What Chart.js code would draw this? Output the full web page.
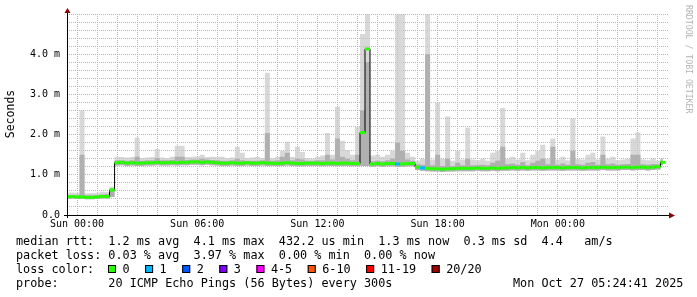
<!DOCTYPE html>
<html>
<head>
<meta charset="utf-8">
<script src="https://cdn.jsdelivr.net/npm/chart.js@4/dist/chart.umd.min.js"></script>
<style>
  body { margin: 0; background: #fff; }
  canvas { display: block; }
</style>
</head>
<body>
<canvas id="chart" width="697" height="297"></canvas>
<script>
  // 15 minute steps, hours counted from Sun 00:00
  var timeStart = -0.5;
  var timeStep = 0.25;

  var median = [
    0.45, 0.46, 0.45, 0.45, 0.44, 0.44, 0.45, 0.46, 0.46, 0.62,
    1.30, 1.31, 1.29, 1.30, 1.29, 1.29, 1.30, 1.30, 1.31, 1.30,
    1.30, 1.31, 1.30, 1.31, 1.31, 1.32, 1.32, 1.31, 1.32, 1.31,
    1.30, 1.29, 1.29, 1.30, 1.29, 1.29, 1.30, 1.29, 1.29, 1.30,
    1.29, 1.29, 1.28, 1.29, 1.30, 1.29, 1.28, 1.28, 1.29, 1.29,
    1.29, 1.28, 1.29, 1.29, 1.28, 1.29, 1.29, 1.28, 1.28, 2.05,
    4.13, 1.27, 1.28, 1.27, 1.28, 1.28, 1.27, 1.27, 1.28, 1.28,
    1.19, 1.17, 1.16, 1.15, 1.15, 1.14, 1.15, 1.15, 1.16, 1.16,
    1.16, 1.16, 1.17, 1.16, 1.16, 1.17, 1.16, 1.17, 1.17, 1.18,
    1.17, 1.18, 1.17, 1.18, 1.18, 1.17, 1.18, 1.18, 1.18, 1.17,
    1.18, 1.18, 1.18, 1.17, 1.18, 1.18, 1.18, 1.19, 1.18, 1.18,
    1.18, 1.19, 1.19, 1.18, 1.19, 1.19, 1.18, 1.19, 1.20, 1.31
  ];

  // smoke: highest ping, upper part of the dense band, lowest ping
  var smokeHi = [
    0.55, 0.56, 0.55, 2.60, 0.54, 0.55, 0.55, 0.58, 0.57, 0.70,
    1.45, 1.44, 1.43, 1.44, 1.93, 1.42, 1.43, 1.44, 1.64, 1.43,
    1.42, 1.45, 1.72, 1.72, 1.44, 1.45, 1.46, 1.50, 1.44, 1.45,
    1.44, 1.45, 1.42, 1.43, 1.70, 1.55, 1.42, 1.43, 1.44, 1.42,
    3.54, 1.42, 1.45, 1.60, 1.82, 1.44, 1.70, 1.57, 1.42, 1.40,
    1.45, 1.48, 2.04, 1.50, 2.69, 1.85, 1.62, 1.50, 2.20, 4.50,
    5.00, 1.48, 1.50, 1.45, 1.50, 1.60, 5.00, 5.00, 1.55, 1.45,
    1.35, 1.40, 5.00, 1.38, 2.80, 1.40, 2.45, 1.35, 1.60, 1.38,
    2.17, 1.38, 1.36, 1.40, 1.35, 1.55, 1.60, 2.66, 1.40, 1.45,
    1.38, 1.55, 1.36, 1.50, 1.60, 1.75, 1.40, 1.90, 1.38, 1.45,
    1.36, 2.40, 1.40, 1.38, 1.50, 1.55, 1.38, 1.95, 1.40, 1.45,
    1.36, 1.38, 1.40, 1.90, 2.05, 1.38, 1.36, 1.40, 1.35, 1.42
  ];

  var smokeMid = [
    0.50, 0.50, 0.49, 1.50, 0.49, 0.49, 0.50, 0.51, 0.52, 0.66,
    1.36, 1.36, 1.35, 1.36, 1.45, 1.35, 1.36, 1.36, 1.42, 1.36,
    1.36, 1.37, 1.45, 1.45, 1.37, 1.38, 1.38, 1.40, 1.38, 1.37,
    1.36, 1.35, 1.35, 1.36, 1.40, 1.36, 1.35, 1.35, 1.35, 1.36,
    2.04, 1.35, 1.36, 1.45, 1.55, 1.36, 1.40, 1.38, 1.35, 1.35,
    1.36, 1.36, 1.50, 1.38, 1.90, 1.45, 1.40, 1.36, 1.50, 2.60,
    3.80, 1.34, 1.35, 1.34, 1.36, 1.40, 1.80, 1.60, 1.38, 1.35,
    1.26, 1.25, 4.00, 1.24, 1.50, 1.22, 1.40, 1.22, 1.30, 1.24,
    1.40, 1.24, 1.24, 1.25, 1.24, 1.30, 1.35, 1.70, 1.26, 1.28,
    1.25, 1.32, 1.24, 1.30, 1.35, 1.40, 1.26, 1.70, 1.25, 1.28,
    1.25, 1.60, 1.26, 1.25, 1.30, 1.32, 1.25, 1.50, 1.26, 1.28,
    1.25, 1.26, 1.27, 1.50, 1.50, 1.26, 1.25, 1.27, 1.26, 1.38
  ];

  var smokeLo = [
    0.40, 0.41, 0.40, 0.40, 0.39, 0.39, 0.40, 0.41, 0.41, 0.45,
    1.23, 1.24, 1.22, 1.23, 1.22, 1.22, 1.23, 1.23, 1.24, 1.23,
    1.23, 1.24, 1.23, 1.24, 1.24, 1.25, 1.25, 1.24, 1.25, 1.24,
    1.23, 1.22, 1.22, 1.23, 1.22, 1.22, 1.23, 1.22, 1.22, 1.23,
    1.22, 1.22, 1.21, 1.22, 1.23, 1.22, 1.21, 1.21, 1.22, 1.22,
    1.22, 1.21, 1.22, 1.22, 1.21, 1.22, 1.22, 1.21, 1.21, 1.22,
    1.22, 1.20, 1.21, 1.20, 1.21, 1.21, 1.20, 1.20, 1.21, 1.21,
    1.12, 1.10, 1.09, 1.08, 1.08, 1.07, 1.08, 1.08, 1.09, 1.09,
    1.09, 1.09, 1.10, 1.09, 1.09, 1.10, 1.09, 1.10, 1.10, 1.11,
    1.10, 1.11, 1.10, 1.11, 1.11, 1.10, 1.11, 1.11, 1.11, 1.10,
    1.11, 1.11, 1.11, 1.10, 1.11, 1.11, 1.11, 1.12, 1.11, 1.11,
    1.11, 1.12, 1.12, 1.11, 1.12, 1.12, 1.11, 1.12, 1.13, 1.24
  ];

  // the few steps where pings were lost
  var lossHours = [16.0, 17.25];
  var lossPings = [1, 1];

  var lossLabels = ['0', '1', '2', '3', '4-5', '6-10', '11-19', '20/20'];
  var lossColors = ['#26ff00', '#00b8ff', '#0059ff', '#7e00ff', '#ff00ff', '#ff5500', '#ff0000', '#a10000'];

  var xTickHours = [0, 6, 12, 18, 24];
  var xTickLabels = ['Sun 00:00', 'Sun 06:00', 'Sun 12:00', 'Sun 18:00', 'Mon 00:00'];
  var yTickValues = [0, 1, 2, 3, 4];
  var yTickLabels = ['0.0', '1.0 m', '2.0 m', '3.0 m', '4.0 m'];

  var legendLines = [
    'median rtt:  1.2 ms avg  4.1 ms max  432.2 us min  1.3 ms now  0.3 ms sd  4.4   am/s',
    'packet loss: 0.03 % avg  3.97 % max  0.00 % min  0.00 % now',
    'loss color:',
    'probe:       20 ICMP Echo Pings (56 Bytes) every 300s'
  ];
  var stampText = 'Mon Oct 27 05:24:41 2025';
  var watermark = 'RRDTOOL / TOBI OETIKER';
  var yTitle = 'Seconds';

  var MONO = "'DejaVu Sans Mono', 'Liberation Mono', monospace";
  var MAJOR = 'rgba(222,140,140,0.8)';
  var MINOR = '#b8b8b8';

  function pts(arr) {
    return arr.map(function(v, i) {
      return { x: timeStart + i * timeStep, y: v };
    });
  }

  function lossIndex(n) {
    if (n <= 3) return n;
    if (n <= 5) return 4;
    if (n <= 10) return 5;
    if (n <= 19) return 6;
    return 7;
  }

  function pointLossColor(ctx) {
    var h = timeStart + ctx.dataIndex * timeStep;
    for (var k = 0; k < lossHours.length; k++) {
      if (Math.abs(lossHours[k] - h) < 1e-6) return lossColors[lossIndex(lossPings[k])];
    }
    return lossColors[0];
  }

  function isWhole(v) {
    return Math.abs(v - Math.round(v)) < 1e-6;
  }

  var frame = {
    id: 'frame',
    afterDraw: function(chart) {
      var c = chart.ctx;
      var a = chart.chartArea;
      c.save();

      // axes with arrows
      c.strokeStyle = '#000';
      c.lineWidth = 1;
      c.beginPath();
      c.moveTo(a.left + 0.5, a.bottom + 3);
      c.lineTo(a.left + 0.5, a.top - 3);
      c.moveTo(a.left - 3, a.bottom + 0.5);
      c.lineTo(a.right + 2, a.bottom + 0.5);
      c.stroke();
      c.fillStyle = '#8b0000';
      c.beginPath();
      c.moveTo(a.left + 0.5, a.top - 6);
      c.lineTo(a.left - 2.5, a.top - 1);
      c.lineTo(a.left + 3.5, a.top - 1);
      c.closePath();
      c.fill();
      c.beginPath();
      c.moveTo(a.right + 7, a.bottom + 0.5);
      c.lineTo(a.right + 1, a.bottom - 2.5);
      c.lineTo(a.right + 1, a.bottom + 3.5);
      c.closePath();
      c.fill();

      // y title
      c.fillStyle = '#000';
      c.font = '11.5px ' + MONO;
      c.textAlign = 'center';
      c.textBaseline = 'middle';
      c.save();
      c.translate(11, 114);
      c.rotate(-Math.PI / 2);
      c.fillText(yTitle, 0, 0);
      c.restore();

      // watermark
      c.save();
      c.fillStyle = '#b4b4b4';
      c.font = '8.2px ' + MONO;
      c.textAlign = 'left';
      c.translate(688, 5);
      c.rotate(Math.PI / 2);
      c.fillText(watermark, 0, 0);
      c.restore();

      // legend block
      c.fillStyle = '#000';
      c.font = '11.8px ' + MONO;
      c.textAlign = 'left';
      c.textBaseline = 'alphabetic';
      var base = [245, 259, 273, 287];
      for (var i = 0; i < legendLines.length; i++) {
        c.fillText(legendLines[i], 16, base[i]);
      }
      c.fillText(stampText, 513, base[3]);

      var charW = c.measureText('0').width;
      var bx = 108;
      for (var j = 0; j < lossLabels.length; j++) {
        c.fillStyle = lossColors[j];
        c.fillRect(bx, 265, 8, 8);
        c.strokeStyle = '#000';
        c.strokeRect(bx + 0.5, 265.5, 7, 7);
        c.fillStyle = '#000';
        c.fillText(lossLabels[j], bx + 14.5, base[2]);
        bx = bx + 14.5 + lossLabels[j].length * charW + 15.5;
      }
      c.restore();
    }
  };

  var ctx = document.getElementById('chart').getContext('2d');
  var myChart = new Chart(ctx, {
    type: 'line',
    data: {
      datasets: [
        {
          label: 'median',
          data: pts(median),
          borderColor: '#000',
          borderWidth: 1,
          stepped: 'middle',
          fill: false,
          pointStyle: 'line',
          pointRadius: 2.6,
          pointHoverRadius: 2.6,
          pointBorderWidth: 3,
          pointBorderColor: pointLossColor,
          pointBackgroundColor: pointLossColor
        },
        {
          label: 'smoke mid',
          data: pts(smokeMid),
          borderWidth: 0,
          borderColor: 'rgba(0,0,0,0)',
          backgroundColor: '#b0b0b0',
          pointRadius: 0,
          stepped: 'middle',
          fill: 3
        },
        {
          label: 'smoke hi',
          data: pts(smokeHi),
          borderWidth: 0,
          borderColor: 'rgba(0,0,0,0)',
          backgroundColor: 'rgba(200,200,200,0.7)',
          pointRadius: 0,
          stepped: 'middle',
          fill: 3
        },
        {
          label: 'smoke lo',
          data: pts(smokeLo),
          borderWidth: 0,
          borderColor: 'rgba(0,0,0,0)',
          pointRadius: 0,
          stepped: 'middle',
          fill: false
        }
      ]
    },
    options: {
      responsive: false,
      animation: false,
      events: [],
      layout: { padding: { left: 0, right: 29, top: 14, bottom: 0 } },
      plugins: {
        legend: { display: false },
        tooltip: { enabled: false }
      },
      scales: {
        x: {
          type: 'linear',
          bounds: 'data',
          min: -0.5,
          max: 29.5,
          afterFit: function(scale) { scale.height = 82; },
          afterBuildTicks: function(scale) {
            var t = [];
            for (var h = Math.ceil(scale.min); h <= Math.floor(scale.max); h++) t.push({ value: h });
            scale.ticks = t;
          },
          ticks: {
            autoSkip: false,
            maxRotation: 0,
            padding: 3,
            color: '#000',
            font: { family: MONO, size: 10 },
            callback: function(v) {
              var k = xTickHours.indexOf(Math.round(v));
              return k >= 0 && isWhole(v) ? xTickLabels[k] : '';
            }
          },
          grid: {
            drawTicks: false,
            lineWidth: 1,
            color: function(c) {
              var v = c.tick ? c.tick.value : 0;
              return Math.round(v) % 3 === 0 ? MAJOR : MINOR;
            }
          },
          border: { display: false, dash: [1, 1] }
        },
        y: {
          bounds: 'data',
          min: 0,
          max: 5,
          afterFit: function(scale) { scale.width = 67; },
          afterBuildTicks: function(scale) {
            var t = [];
            for (var k = 0; k <= 25; k++) t.push({ value: Math.round(k * 2) / 10 });
            scale.ticks = t;
          },
          ticks: {
            autoSkip: false,
            padding: 7,
            color: '#000',
            font: { family: MONO, size: 10 },
            callback: function(v) {
              if (!isWhole(v)) return '';
              var k = yTickValues.indexOf(Math.round(v));
              return k >= 0 ? yTickLabels[k] : '';
            }
          },
          grid: {
            drawTicks: false,
            lineWidth: 1,
            color: function(c) {
              var v = c.tick ? c.tick.value : 0;
              return isWhole(v) ? MAJOR : MINOR;
            }
          },
          border: { display: false, dash: [1, 1] }
        }
      }
    },
    plugins: [frame]
  });
</script>
</body>
</html>
